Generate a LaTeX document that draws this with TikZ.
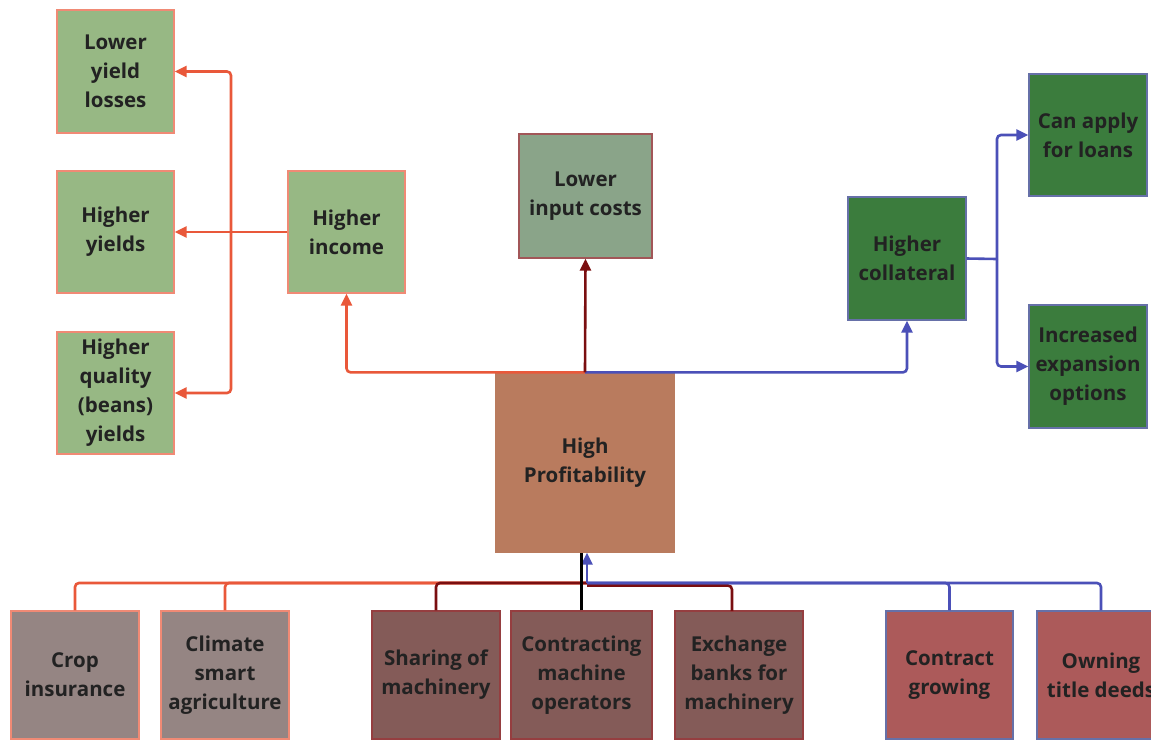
\documentclass[tikz,border=0pt]{standalone}
\usepackage{fontspec}
\setmainfont{Open Sans}
\usetikzlibrary{arrows.meta}

\definecolor{txt}{HTML}{222222}
\definecolor{lgreen}{HTML}{97B884}
\definecolor{sage}{HTML}{8AA489}
\definecolor{dgreen}{HTML}{3B7C3D}
\definecolor{clay}{HTML}{B97B5E}
\definecolor{mauve}{HTML}{958583}
\definecolor{brownred}{HTML}{845B58}
\definecolor{rosered}{HTML}{AC5A5A}
\definecolor{lnorange}{HTML}{E9583A}
\definecolor{lndred}{HTML}{7A0E10}
\definecolor{lnblue}{HTML}{4B50B8}
\definecolor{edgeblue}{HTML}{6670A8}

\tikzset{
  box/.style={draw, line width=1.3pt, inner sep=0pt, align=center, text=txt,
    font=\fontsize{20.5}{29}\selectfont\bfseries},
  wd/.style n args={2}{minimum width=#1, minimum height=#2},
  link/.style={line width=2.6pt, rounded corners=4pt},
  tip/.style={-{Triangle[length=12pt,width=11pt]}},
}

\begin{document}
\begin{tikzpicture}[x=1pt, y=-1pt]
\clip (0,0) rectangle (1151,740);
\fill[white] (0,0) rectangle (1151,740);

% outcomes of higher income
\node[box, wd={117pt}{123pt}, fill=lgreen, draw=lnorange!70] (lyl) at (115.5,71.5) {Lower\\yield\\losses};
\node[box, wd={117pt}{122pt}, fill=lgreen, draw=lnorange!70] (hy) at (115.5,232) {Higher\\yields};
\node[box, wd={117pt}{122pt}, fill=lgreen, draw=lnorange!70] (hq) at (115.5,393) {Higher\\quality\\(beans)\\yields};
\node[box, wd={117pt}{122pt}, fill=lgreen, draw=lnorange!70] (hi) at (346.5,232) {Higher\\income};

% centre column
\node[box, wd={133pt}{124pt}, fill=sage, draw=lndred!70] (lic) at (585.5,196) {Lower\\input costs};
\node[box, wd={178pt}{179pt}, fill=clay, draw=clay] (hp) at (585,462.5) {High\\Profitability};

% collateral branch
\node[box, wd={118pt}{123pt}, fill=dgreen, draw=edgeblue] (hc) at (907,258.5) {Higher\\collateral};
\node[box, wd={118pt}{122pt}, fill=dgreen, draw=edgeblue] (can) at (1088,135) {Can apply\\for loans};
\node[box, wd={118pt}{123pt}, fill=dgreen, draw=edgeblue] (inc) at (1088,366.5) {Increased\\expansion\\options};

% drivers along the bottom
\node[box, wd={128pt}{128pt}, fill=mauve, draw=lnorange!70] (crop) at (75,675) {Crop\\insurance};
\node[box, wd={128pt}{128pt}, fill=mauve, draw=lnorange!70] (clim) at (225,675) {Climate\\smart\\agriculture};
\node[box, wd={128pt}{128pt}, fill=brownred, draw=lndred!80] (share) at (436,675) {Sharing of\\machinery};
\node[box, wd={141pt}{128pt}, fill=brownred, draw=lndred!80] (contr) at (581.5,675) {Contracting\\machine\\operators};
\node[box, wd={128pt}{128pt}, fill=brownred, draw=lndred!80] (exch) at (739,675) {Exchange\\banks for\\machinery};
\node[box, wd={127pt}{128pt}, fill=rosered, draw=edgeblue] (cg) at (949.5,675) {Contract\\growing};
\node[box, wd={128pt}{128pt}, fill=rosered, draw=edgeblue] (own) at (1101,675) {Owning\\title deeds};

% junction points
\coordinate (jn) at (231,232);
\coordinate (jc) at (997,259);
\coordinate (bus) at (587,583);
\coordinate (busR) at (587,585.5);
\coordinate (exT) at (732,611);

% higher income fans out to the left
\draw[link, lnorange, tip] (hi.west) -- (hy.east);
\draw[link, lnorange, tip] (jn) |- (lyl.east);
\draw[link, lnorange, tip] (jn) |- (hq.east);

% high profitability feeds upwards
\draw[link, lnorange, tip] (hp.north) -| (hi.south);
\draw[link, lnblue, tip] (hp.north) -| (hc.south);
\draw[link, lndred, tip] (hp.north) -- (lic.south);

% collateral fans out to the right
\draw[link, lnblue] (hc.east) -- (jc);
\draw[link, lnblue, tip] (jc) |- (can.west);
\draw[link, lnblue, tip] (jc) |- (inc.west);

% bottom bus into high profitability
\draw[link, lnorange] (crop.north) |- (bus);
\draw[link, lnorange] (clim.north) |- (bus);
\draw[link, lndred] (share.north) |- (bus);
\draw[link, lndred] (exT) |- (busR);
\draw[link, lnblue] (own.north) |- (bus);
\draw[link, lnblue] (cg.north) |- (bus);
\draw[link, lnblue, tip] (bus) -- (bus |- hp.south);
\draw[line width=2.6pt, black] (contr.north) -- (contr.north |- hp.south);
\end{tikzpicture}
\end{document}
